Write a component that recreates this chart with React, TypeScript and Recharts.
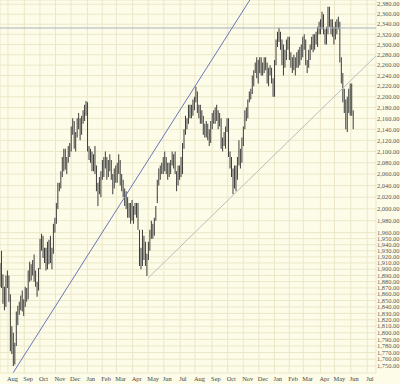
import { ComposedChart, Bar, XAxis, YAxis, CartesianGrid, ReferenceLine } from 'recharts';

// month gridlines, placed at the first trading session of each month
const monthLabels = ['Aug', 'Sep', 'Oct', 'Nov', 'Dec', 'Jan', 'Feb', 'Mar', 'Apr', 'May', 'Jun', 'Jul',
  'Aug', 'Sep', 'Oct', 'Nov', 'Dec', 'Jan', 'Feb', 'Mar', 'Apr', 'May', 'Jun', 'Jul'];
const monthSessions = [12, 34, 55, 76, 97, 119, 139, 158, 180, 201, 222, 244,
  264, 287, 308, 329, 350, 371, 391, 410, 433, 452, 474, 496];

const priceTicks = [2380, 2360, 2340, 2320, 2300, 2280, 2260, 2240, 2220, 2200, 2180, 2160, 2140, 2120,
  2100, 2080, 2060, 2040, 2020, 2000, 1980, 1960, 1950, 1940, 1930, 1920, 1910, 1900, 1890, 1880, 1870,
  1860, 1850, 1840, 1830, 1820, 1810, 1800, 1790, 1780, 1770, 1760, 1750];

// one bar = two trading sessions, starting Jul 16
const firstSession = 1;
const sessionsPerBar = 2;

const lows = [
  1872, 1870, 1845, 1835, 1840, 1870, 1848, 1772, 1768, 1750,
  1752, 1780, 1812, 1828, 1835, 1833, 1826, 1840, 1848, 1852,
  1880, 1882, 1890, 1880, 1872, 1856, 1866, 1900, 1930, 1918,
  1910, 1898, 1900, 1908, 1910, 1900, 1925, 1960, 1975, 2000,
  2030, 2035, 2055, 2065, 2068, 2060, 2080, 2090, 2100, 2130,
  2105, 2100, 2125, 2140, 2120, 2130, 2150, 2155, 2165, 2100,
  2085, 2080, 2065, 2065, 2060, 2030, 2005, 2025, 2020, 2050,
  2055, 2070, 2050, 2055, 2065, 2050, 2025, 2035, 2045, 2045,
  2060, 2040, 2030, 2020, 2005, 2000, 1985, 1985, 1975, 1980,
  1975, 1990, 1985, 1965, 1905, 1900, 1905, 1915, 1905, 1889,
  1915, 1930, 1950, 1950, 1955, 1980, 2010, 2040, 2050, 2060,
  2060, 2065, 2060, 2050, 2055, 2060, 2075, 2070, 2060, 2030,
  2040, 2050, 2055, 2060, 2105, 2130, 2140, 2150, 2160, 2160,
  2165, 2175, 2190, 2170, 2160, 2150, 2150, 2130, 2125, 2125,
  2120, 2110, 2115, 2140, 2150, 2150, 2155, 2140, 2145, 2105,
  2100, 2110, 2105, 2135, 2090, 2070, 2055, 2025, 2035, 2030,
  2050, 2075, 2070, 2080, 2110, 2140, 2155, 2160, 2190, 2195,
  2205, 2220, 2245, 2235, 2225, 2245, 2240, 2240, 2245, 2250,
  2225, 2220, 2240, 2225, 2200, 2200, 2260, 2295, 2305, 2290,
  2260, 2240, 2255, 2270, 2290, 2270, 2255, 2245, 2250, 2240,
  2255, 2255, 2260, 2270, 2275, 2290, 2260, 2245, 2255, 2270,
  2290, 2285, 2290, 2300, 2295, 2320, 2320, 2330, 2320, 2300,
  2300, 2320, 2335, 2320, 2315, 2300, 2310, 2320, 2330, 2265,
  2225, 2190, 2170, 2140, 2135, 2170, 2165, 2165, 2140,
];

const highs = [
  1910, 1930, 1892, 1872, 1890, 1898, 1890, 1860, 1810, 1800,
  1785, 1833, 1842, 1848, 1858, 1866, 1852, 1872, 1870, 1898,
  1912, 1908, 1915, 1924, 1898, 1880, 1902, 1950, 1958, 1955,
  1935, 1935, 1945, 1948, 1955, 1935, 1975, 1985, 2010, 2045,
  2045, 2065, 2090, 2105, 2105, 2090, 2110, 2115, 2145, 2160,
  2155, 2135, 2160, 2170, 2160, 2165, 2175, 2185, 2192, 2190,
  2110, 2105, 2100, 2095, 2110, 2075, 2045, 2055, 2065, 2085,
  2090, 2100, 2090, 2085, 2095, 2085, 2060, 2070, 2075, 2080,
  2095, 2085, 2060, 2050, 2035, 2030, 2020, 2010, 2010, 2015,
  2005, 2010, 2010, 2010, 1965, 1935, 1965, 1955, 1945, 1925,
  1945, 1965, 1980, 1975, 1985, 2005, 2050, 2070, 2075, 2080,
  2090, 2100, 2090, 2080, 2080, 2085, 2100, 2095, 2100, 2065,
  2075, 2075, 2090, 2115, 2140, 2165, 2160, 2185, 2185, 2185,
  2195, 2200, 2219, 2210, 2185, 2185, 2175, 2165, 2150, 2155,
  2150, 2140, 2155, 2170, 2175, 2180, 2185, 2175, 2170, 2160,
  2125, 2135, 2145, 2160, 2160, 2100, 2090, 2070, 2075, 2075,
  2090, 2120, 2105, 2125, 2145, 2175, 2180, 2195, 2210, 2215,
  2240, 2250, 2265, 2275, 2270, 2275, 2275, 2265, 2275, 2275,
  2265, 2255, 2260, 2255, 2235, 2270, 2310, 2325, 2333, 2325,
  2310, 2300, 2290, 2310, 2315, 2315, 2285, 2275, 2280, 2275,
  2285, 2290, 2295, 2300, 2315, 2320, 2310, 2270, 2290, 2300,
  2315, 2320, 2320, 2325, 2335, 2345, 2350, 2365, 2360, 2330,
  2335, 2375, 2375, 2350, 2350, 2335, 2345, 2350, 2355, 2345,
  2275, 2245, 2215, 2195, 2200, 2215, 2225, 2225, 2175,
];

// trend lines drawn on the chart: [session, price] end points
const upperTrend = [{ x: 19, y: 1740 }, { x: 338, y: 2389 }];
const lowerTrend = [{ x: 201, y: 1886 }, { x: 508, y: 2278 }];
const januaryHigh = 2332.5;

const bars = lows.map((lo, i) => ({
  session: firstSession + i * sessionsPerBar + 0.5,
  range: [lo, highs[i]],
}));

const fmtPrice = (v: number) =>
  v.toLocaleString('en-US', { minimumFractionDigits: 2, maximumFractionDigits: 2 });

const PriceTick = (props: any) => {
  const { x, y, payload } = props;
  return (
    <text x={x + 1} y={y + 2.2} fontSize={6.4} fontFamily="Liberation Serif" fill="#555">
      {fmtPrice(payload.value)}
    </text>
  );
};

const MonthTick = (props: any) => {
  const { x, y, index } = props;
  return (
    <text x={x - 1} y={y + 8} fontSize={6.4} fontFamily="Liberation Serif" fill="#444">
      {monthLabels[index]}
    </text>
  );
};

export default function App() {
  return (
    <div style={{ position: 'absolute', left: 0, top: 0, width: 400, height: 384, background: '#fdfce8' }}>
      <ComposedChart width={400} height={384} data={bars} margin={{ top: 0, right: 0, bottom: 0, left: 0 }}>
        <CartesianGrid stroke="#ebe7c8" strokeWidth={1} />
        <XAxis
          dataKey="session"
          type="number"
          domain={[1.2, 507.9]}
          allowDataOverflow
          ticks={monthSessions}
          interval={0}
          height={11}
          tickSize={0}
          tickMargin={0}
          axisLine={false}
          tickLine={false}
          tick={<MonthTick />}
        />
        <YAxis
          orientation="right"
          type="number"
          scale="log"
          domain={[1739.5, 2388.7]}
          allowDataOverflow
          ticks={priceTicks}
          interval={0}
          width={24}
          tickSize={0}
          tickMargin={0}
          axisLine={false}
          tickLine={false}
          tick={<PriceTick />}
        />
        <ReferenceLine y={januaryHigh} stroke="#aab1bd" strokeWidth={1} ifOverflow="hidden" />
        <ReferenceLine segment={upperTrend} stroke="#6876b6" strokeWidth={1} ifOverflow="hidden" />
        <ReferenceLine segment={lowerTrend} stroke="#bcbcbc" strokeWidth={1} ifOverflow="hidden" />
        <Bar dataKey="range" fill="#3d3d3d" barSize={1} isAnimationActive={false} />
      </ComposedChart>
    </div>
  );
}
